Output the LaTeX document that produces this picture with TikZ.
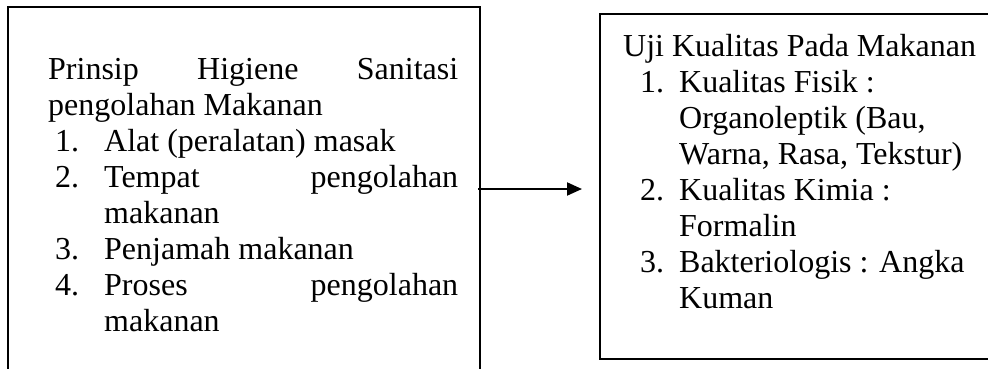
\documentclass[tikz,border=0pt]{standalone}
\usepackage{fontspec}
\setmainfont{Liberation Serif}
\usetikzlibrary{arrows.meta}
\newcommand{\numL}[1]{\hspace*{7pt}\makebox[49pt][l]{#1}}
\newcommand{\numR}[1]{\hspace*{17pt}\makebox[39pt][l]{#1}}
\tikzset{
  >={Triangle[length=15pt,width=13pt]},
  frame/.style={draw,line width=2pt,inner sep=0pt},
  txt/.style={anchor=base west,inner sep=0pt,align=flush left,font=\fontsize{32}{36}\selectfont},
  arr/.style={->,line width=2pt},
}
\begin{document}
\begin{tikzpicture}[x=1pt,y=-1pt]
\clip (0,0) rectangle (988,368);
% boxes
\node[frame,minimum width=472pt,minimum height=364pt] (lbox) at (244,189) {};
\node[frame,minimum width=392pt,minimum height=345pt] (rbox) at (796,186.5) {};
% texts
\node[txt,text width=410pt] (prinsip) at (48,79) {%
Prinsip\hfill Higiene\hfill Sanitasi\\
pengolahan Makanan\\
\numL{1.}Alat (peralatan) masak\\
\numL{2.}Tempat\hfill pengolahan\\
\hspace*{56pt}makanan\\
\numL{3.}Penjamah makanan\\
\numL{4.}Proses\hfill pengolahan\\
\hspace*{56pt}makanan};
\node[txt,text width=362pt] (uji) at (623,56) {%
Uji Kualitas Pada Makanan\\
\numR{1.}Kualitas Fisik :\\
\hspace*{56pt}Organoleptik (Bau,\\
\hspace*{56pt}Warna, Rasa, Tekstur)\\
\numR{2.}Kualitas Kimia :\\
\hspace*{56pt}Formalin\\
\numR{3.}Bakteriologis : Angka\\
\hspace*{56pt}Kuman};
% arrow
\draw[arr] ([xshift=-3pt]lbox.east) -- ([xshift=-17pt]rbox.west |- lbox.east);
\end{tikzpicture}
\end{document}
